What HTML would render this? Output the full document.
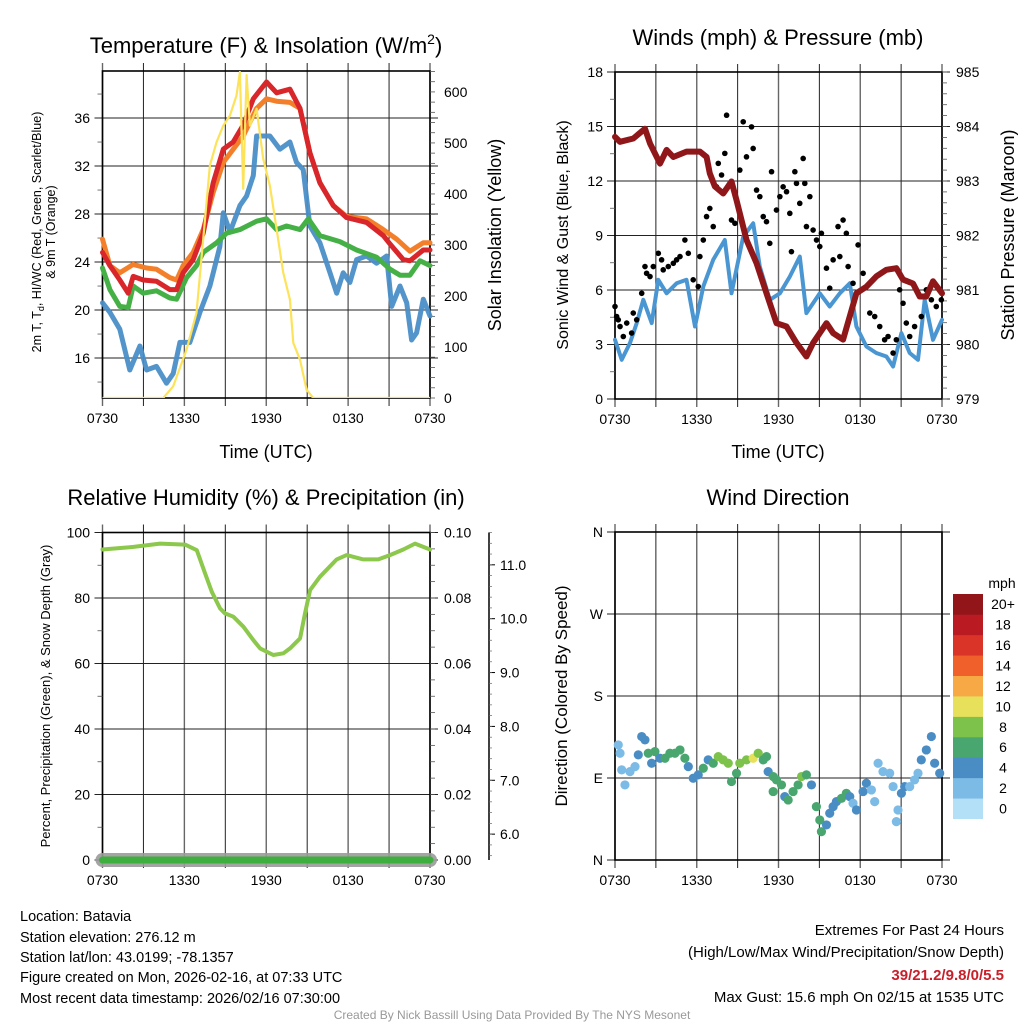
<!DOCTYPE html>
<html><head><meta charset="utf-8"><title>Batavia Mesonet</title>
<style>
html,body{margin:0;padding:0;background:#fff;}
svg{display:block;font-family:"Liberation Sans",Arial,sans-serif;}
</style></head>
<body>
<svg id="fig" width="1024" height="1024" viewBox="0 0 1024 1024" xmlns="http://www.w3.org/2000/svg">
<defs><clipPath id="clip1"><rect x="102.5" y="71" width="327.5" height="327"/></clipPath></defs>
<g id="texts">
<text x="266" y="53" font-size="22" text-anchor="middle">Temperature (F) &amp; Insolation (W/m<tspan font-size="14" dy="-9">2</tspan><tspan dy="9">)</tspan></text>
<text x="778" y="45" font-size="22" text-anchor="middle">Winds (mph) &amp; Pressure (mb)</text>
<text x="266" y="505" font-size="22" text-anchor="middle">Relative Humidity (%) &amp; Precipitation (in)</text>
<text x="778" y="505" font-size="22" text-anchor="middle">Wind Direction</text>
<text x="266" y="458" font-size="18" text-anchor="middle">Time (UTC)</text>
<text x="778" y="458" font-size="18" text-anchor="middle">Time (UTC)</text>
<text transform="translate(41,232) rotate(-90)" font-size="12.5" text-anchor="middle">2m T, T<tspan font-size="9" dy="3">d</tspan><tspan dy="-3">, HI/WC (Red, Green, Scarlet/Blue)</tspan></text>
<text transform="translate(55,232) rotate(-90)" font-size="12.5" text-anchor="middle">&amp; 9m T (Orange)</text>
<text transform="translate(501,235) rotate(-90)" font-size="18" text-anchor="middle">Solar Insolation (Yellow)</text>
<text transform="translate(568,235) rotate(-90)" font-size="16" text-anchor="middle">Sonic Wind &amp; Gust (Blue, Black)</text>
<text transform="translate(1014,235) rotate(-90)" font-size="18" text-anchor="middle">Station Pressure (Maroon)</text>
<text transform="translate(50,696) rotate(-90)" font-size="13" text-anchor="middle">Percent, Precipitation (Green), &amp; Snow Depth (Gray)</text>
<text transform="translate(567,696) rotate(-90)" font-size="17" text-anchor="middle">Direction (Colored By Speed)</text>
<text x="1002" y="588" font-size="14" text-anchor="middle">mph</text>
<g font-size="14.5">
<text x="20" y="921">Location: Batavia</text>
<text x="20" y="942">Station elevation: 276.12 m</text>
<text x="20" y="962">Station lat/lon: 43.0199; -78.1357</text>
<text x="20" y="982">Figure created on Mon, 2026-02-16, at 07:33 UTC</text>
<text x="20" y="1003">Most recent data timestamp: 2026/02/16 07:30:00</text>
</g>
<g font-size="15" text-anchor="end">
<text x="1004" y="935">Extremes For Past 24 Hours</text>
<text x="1004" y="957">(High/Low/Max Wind/Precipitation/Snow Depth)</text>
<text x="1004" y="980" fill="#c8202a" font-weight="bold">39/21.2/9.8/0/5.5</text>
<text x="1004" y="1002">Max Gust: 15.6 mph On 02/15 at 1535 UTC</text>
</g>
<text x="512" y="1019" font-size="12" fill="#999" text-anchor="middle">Created By Nick Bassill Using Data Provided By The NYS Mesonet</text>
</g>
</svg>
<script>
// ---- Temperature panel data ----
const redH=[0,0.54,1.27,1.88,2.25,2.98,3.96,4.94,5.43,5.91,6.65,7.38,8.11,8.85,9.58,10.31,11.05,12.02,12.76,13.73,14.47,15.20,15.93,16.91,17.89,19.35,20.58,21.07,22.04,22.53,23.51,24];
const redT=[24.8,23.7,22.5,21.4,22.8,22.5,22.4,21.7,21.7,23.1,24.2,26.4,30.6,33.4,34.0,35.4,37.6,39.0,38.1,38.4,36.8,33.1,30.6,28.7,27.7,27.3,26.2,25.5,24.2,24.1,25.0,25.0];
const orgH=[0,0.54,1.27,2.25,3.23,3.96,4.94,5.43,5.91,6.65,7.38,8.11,8.85,9.58,10.31,11.29,12.02,12.76,13.73,14.47,15.20,15.93,16.91,17.89,19.35,20.58,21.56,22.53,23.51,24];
const orgT=[25.9,23.7,23.1,23.8,23.5,23.4,22.7,22.5,23.7,24.8,26.7,29.8,32.3,33.4,34.5,36.8,37.6,37.4,37.3,36.8,33.1,30.6,28.7,27.8,27.6,26.7,25.9,24.9,25.6,25.6];
const grnH=[0,0.54,1.27,1.88,2.25,2.98,3.96,4.94,5.43,6.16,6.89,7.38,8.36,9.09,10.07,11.29,12.02,12.76,13.49,14.47,15.08,15.93,17.40,18.62,20.09,21.07,21.80,22.53,23.27,24];
const grnT=[23.5,21.7,20.3,20.2,22.0,21.4,21.6,21.0,20.9,22.7,23.7,24.8,25.6,26.4,26.7,27.4,27.6,26.7,27.0,26.7,27.6,26.2,25.7,25.0,24.4,23.4,22.9,22.9,24.1,23.7];
const bluH=[0,0.54,1.27,2.0,2.74,3.23,3.96,4.69,5.18,5.67,6.40,7.14,7.87,8.60,8.85,9.34,10.07,10.56,11.05,11.29,12.27,13.0,13.73,14.22,14.71,15.20,15.93,16.67,17.16,17.64,18.13,18.62,19.35,20.09,20.82,21.19,21.80,22.29,22.65,23.02,23.51,24];
const bluT=[20.6,19.8,18.4,15.0,17.0,15.0,15.3,13.9,14.7,17.3,17.3,19.8,22.0,25.3,28.1,26.5,28.7,29.5,31.2,34.5,34.5,33.4,34.0,32.3,31.7,27.0,25.6,23.1,21.4,23.1,22.3,24.2,24.5,23.9,24.5,20.3,22.0,20.6,17.5,18.1,20.9,19.5];
const solH=[0,4.45,5.18,6.16,6.89,7.38,7.87,8.36,8.85,9.34,9.82,10.07,10.31,10.56,10.80,11.29,11.78,12.27,12.76,13.24,13.73,13.98,14.47,14.96,15.44,24];
const solW=[0,0,23,95,167,311,456,502,534,554,593,639,410,633,534,567,469,416,331,246,193,108,75,16,0,0];
const tempTicks=[16,20,24,28,32,36];
const solTicks=[0,100,200,300,400,500,600];
const timeLabels=["0730","1330","1930","0130","0730"];
// ---- Wind panel data ----
const presH=[0,0.37,1.34,2.2,2.57,3.3,3.79,4.28,5.25,6.23,6.72,6.96,7.33,7.94,8.55,8.92,9.65,10.39,11.12,11.85,12.59,13.32,14.05,14.54,15.52,16.01,16.74,17.72,18.45,19.18,19.92,20.65,21.14,21.87,22.36,22.85,23.34,24];
const presMb=[983.81,983.72,983.78,983.96,983.69,983.32,983.57,983.44,983.54,983.54,983.44,983.14,982.9,982.77,982.99,982.65,981.92,981.49,980.94,980.39,980.33,980.03,979.78,980.03,980.39,980.21,980.09,980.94,981.06,981.25,981.37,981.40,981.19,981.12,980.88,980.88,981.16,980.94];
const windH=[0,0.49,1.10,1.59,2.08,2.69,3.18,3.79,4.52,5.25,5.87,6.48,7.21,8.06,8.55,9.41,10.14,10.63,11.36,12.10,12.83,13.56,14.05,15.03,15.76,16.50,17.23,17.72,18.45,19.18,19.92,20.41,21.02,21.63,22.24,22.73,23.34,24];
const windMph=[3.26,2.16,3.08,4.18,5.46,4.18,6.56,5.82,6.37,6.56,3.99,6.19,7.66,8.75,5.82,8.94,9.67,7.29,5.46,5.82,6.74,7.84,4.73,5.82,5.09,5.82,6.37,3.99,2.89,2.53,2.34,1.79,3.63,2.53,2.16,5.46,3.26,4.36];
const gustH=[0,0.12,0.24,0.37,0.61,0.86,1.22,1.34,1.59,1.96,2.2,2.32,2.57,2.81,3.18,3.42,3.54,3.91,4.28,4.52,4.77,5.13,5.38,5.74,6.11,6.23,6.48,6.72,6.96,7.21,7.45,7.58,7.82,8.06,8.19,8.55,8.80,9.16,9.41,9.65,10.02,10.14,10.39,10.63,10.88,11.12,11.36,11.49,11.85,12.10,12.34,12.59,12.83,12.95,13.20,13.32,13.56,13.81,13.93,14.05,14.30,14.54,14.79,15.03,15.15,15.52,15.76,16.01,16.37,16.50,16.74,16.98,17.11,17.47,17.84,18.21,18.70,19.06,19.43,19.79,20.04,20.41,20.65,20.89,21.14,21.38,21.63,21.99,22.48,22.85,23.22,23.58,23.95];
const gustMph=[5.09,4.54,4.36,3.99,3.44,4.18,3.63,4.73,4.36,5.82,7.29,6.92,6.74,7.29,8.02,7.66,7.11,7.29,7.47,7.66,7.84,8.75,8.02,6.56,6.19,7.84,8.75,10.04,10.49,9.49,11.68,12.97,12.33,13.52,15.62,9.85,9.67,12.60,15.26,13.33,14.98,13.79,11.50,11.14,10.04,9.76,8.57,12.51,10.40,11.14,11.68,11.41,10.22,8.11,12.51,11.87,10.77,13.24,11.87,9.49,11.14,9.30,8.75,8.39,9.12,7.20,6.10,7.66,9.49,7.84,9.85,9.12,7.29,6.37,8.48,6.92,4.73,4.54,3.99,3.26,3.44,2.53,3.26,6.01,5.27,4.18,3.44,3.99,4.54,6.01,5.46,5.09,5.46];
const windTicks=[0,3,6,9,12,15,18];
const presTicks=[979,980,981,982,983,984,985];
// ---- Humidity panel data ----
const rhH=[0,2.27,4.22,6.05,6.91,7.52,8.01,8.62,8.98,9.59,10.33,11.06,11.55,12.52,13.26,13.74,14.48,14.84,15.21,15.94,17.16,17.89,19.11,20.21,21.07,22.04,22.90,24];
const rhPct=[94.8,95.6,96.6,96.3,94.6,87.5,81.9,76.8,75.3,74.3,71.2,67.1,64.6,62.6,63.1,64.6,67.7,75.3,82.4,86.5,91.8,93.1,91.8,91.8,93.1,94.8,96.6,94.8];
const precipH=[0,24];
const precipIn=[0,0];
const rhTicks=[0,20,40,60,80,100];
const precipTicks=["0.00","0.02","0.04","0.06","0.08","0.10"];
const snowTicks=["6.0","7.0","8.0","9.0","10.0","11.0"];
// ---- Wind direction data ----
const dirH=[0.24,0.37,0.49,0.73,1.10,1.47,1.71,1.96,2.20,2.44,2.69,2.93,3.30,3.67,4.03,4.40,4.77,5.13,5.38,5.74,6.11,6.48,6.84,7.21,7.58,7.94,8.31,8.55,8.92,9.16,9.65,10.14,10.51,10.88,11.12,11.24,11.61,11.61,11.85,12.22,12.46,12.71,13.07,13.44,13.69,14.05,14.42,14.78,15.03,15.15,15.52,15.76,16.01,16.25,16.62,16.98,17.23,17.47,17.72,18.21,18.45,18.82,19.06,19.31,19.67,20.16,20.41,20.77,20.65,21.02,21.26,21.63,21.99,22.24,22.48,22.85,23.22,23.46,23.83];
const dirDeg=[126.3,117.2,98.9,82.4,97.0,102.5,115.4,135.5,131.8,117.2,106.2,119.0,111.7,111.7,117.2,117.2,120.8,111.7,102.5,89.7,93.4,100.7,109.9,106.2,113.5,109.9,106.2,86.1,95.2,106.2,109.9,111.7,117.2,109.9,113.5,97.0,91.6,75.1,87.9,82.4,69.6,65.9,75.1,82.4,91.6,93.4,82.4,58.6,43.9,31.1,38.5,51.3,58.6,64.1,67.7,73.2,69.6,62.3,54.9,75.1,84.2,76.9,64.1,106.2,97.0,95.2,80.6,54.9,42.1,73.2,80.6,80.6,87.9,95.2,109.9,120.8,135.5,106.2,95.2];
const dirSpd=[2.5,2.5,2.5,2.5,2.5,2.5,4.5,4.5,4.5,6.5,4.5,6.5,4.5,6.5,6.5,6.5,6.5,6.5,4.5,4.5,4.5,6.5,4.5,6.5,8.5,8.5,8.5,6.5,6.5,8.5,8.5,10.2,8.5,6.5,6.5,4.5,6.5,6.5,6.5,6.5,4.5,6.5,6.5,6.5,8.5,6.5,4.5,6.5,6.5,6.5,4.5,4.5,4.5,4.5,6.5,6.5,4.5,2.5,4.5,4.5,4.5,2.5,2.5,2.5,2.5,2.5,2.5,2.5,2.5,4.5,4.5,2.5,2.5,2.5,4.5,4.5,4.5,4.5,4.5];
const dirLabels=["N","E","S","W","N"];
const cbLabels=["0","2","4","6","8","10","12","14","16","18","20+"];
const cbColors=["#b3e0f7","#7bbbe6","#4a8dc5","#48a66e","#7dc24a","#e6e05a","#f6a945","#f0602a","#da3327","#ba1b22","#921519"];

const NS="http://www.w3.org/2000/svg";
const svg=document.getElementById('fig');
function E(tag,parent){const e=document.createElementNS(NS,tag);(parent||svg).appendChild(e);return e;}
function lin(d0,d1,r0,r1){return v=>r0+(v-d0)*(r1-r0)/(d1-d0);}
function path(xs,ys,fx,fy){let s="";for(let i=0;i<xs.length;i++){s+=(i?"L":"M")+fx(xs[i]).toFixed(1)+","+fy(ys[i]).toFixed(1);}return s;}

const P1={x0:102.5,x1:430,y0:71,y1:398};
const P2={x0:615,x1:942,y0:72,y1:399};
const P3={x0:102.5,x1:430,y0:532.5,y1:860};
const P4={x0:615,x1:942,y0:532,y1:860};

function frame(P,name,yTicksPx,yLabels,labelX){
  const g=E('g');
  
  
  for(let i=0;i<=8;i++){
    const x=P.x0+i*(P.x1-P.x0)/8;
    const l=E('line',g);
    
    
    l.setAttribute('x1',x);l.setAttribute('x2',x);l.setAttribute('y1',P.y0-8);l.setAttribute('y2',P.y1+8);
    l.setAttribute('stroke',i%2?'#222':'#666');l.setAttribute('stroke-width',i%2?1:1.4);
  }
  for(let i=0;i<5;i++){
    const t=E('text',g);
    
    
    t.setAttribute('x',P.x0+i*(P.x1-P.x0)/4);t.setAttribute('y',P.y1+25);
    t.setAttribute('font-size','14');t.setAttribute('text-anchor','middle');
    t.textContent=timeLabels[i];
  }
  yTicksPx.forEach((y,i)=>{
    const l=E('line',g);
    
    
    l.setAttribute('x1',P.x0-8);l.setAttribute('x2',P.x1+8);l.setAttribute('y1',y);l.setAttribute('y2',y);
    l.setAttribute('stroke','#222');l.setAttribute('stroke-width',1);
    if(yLabels){
      const t=E('text',g);
      
      
      t.setAttribute('x',labelX);t.setAttribute('y',y+5);t.setAttribute('font-size','14');t.setAttribute('text-anchor','end');
      t.textContent=yLabels[i];
    }
  });
  const r=E('rect',g);
  
  
  r.setAttribute('x',P.x0);r.setAttribute('y',P.y0);r.setAttribute('width',P.x1-P.x0);r.setAttribute('height',P.y1-P.y0);
  r.setAttribute('fill','none');r.setAttribute('stroke','#000');r.setAttribute('stroke-width',1.6);
  return g;
}
function rightTicks(P,name,ys,labels,minorYs){
  const g=E('g');
  
  
  ys.forEach((y,i)=>{
    const t=E('text',g);
    
    
    t.setAttribute('x',P.x1+14);t.setAttribute('y',y+5);t.setAttribute('font-size','14');
    t.textContent=labels[i];
  });
  minorYs.forEach(y=>{
    const l=E('line',g);
    
    
    l.setAttribute('x1',P.x1);l.setAttribute('x2',P.x1+5);l.setAttribute('y1',y);l.setAttribute('y2',y);
    l.setAttribute('stroke','#555');l.setAttribute('stroke-width',0.8);
  });
}
function leftMinor(P,name,ys){
  ys.forEach(y=>{
    const l=E('line');
    
    
    l.setAttribute('x1',P.x0-5);l.setAttribute('x2',P.x0);l.setAttribute('y1',y);l.setAttribute('y2',y);
    l.setAttribute('stroke','#555');l.setAttribute('stroke-width',0.8);
  });
}
function line(d,color,w,name,op){
  const p=E('path');
  
  
  p.setAttribute('d',d);p.setAttribute('fill','none');p.setAttribute('stroke',color);
  p.setAttribute('stroke-width',w);p.setAttribute('stroke-linejoin','round');p.setAttribute('stroke-linecap','round');
  if(op)p.setAttribute('opacity',op);
  return p;
}

// ===== Panel 1 =====
const x1s=lin(0,24,P1.x0,P1.x1);
const yT=lin(12.67,39.92,P1.y1,P1.y0);
const yS=lin(0,641,P1.y1,P1.y0);
frame(P1,'temperature',tempTicks.map(yT),tempTicks,90);
leftMinor(P1,'temperature',[14,18,22,26,30,34,38].map(yT));
{const mins=[];for(let w=0;w<=640;w+=20)mins.push(yS(w));rightTicks(P1,'solar',solTicks.map(yS),solTicks,mins);}
line(path(bluH,bluT,x1s,yT),'#4a8fc8',5,'dewpoint-line',0.95);
line(path(grnH,grnT,x1s,yT),'#45b046',5,'heat-index-line');
line(path(orgH,orgT,x1s,yT),'#f47f2a',5,'temp-9m-line');
line(path(redH,redT,x1s,yT),'#d8262b',5,'temp-2m-line');
const solLine=line(path(solH,solW,x1s,yS),'#fde35a',2.2,'solar-insolation-line');
solLine.setAttribute('clip-path','url(#clip1)');

// ===== Panel 2 =====
const x2s=lin(0,24,P2.x0,P2.x1);
const yW=lin(0,18,P2.y1,P2.y0);
const yP=lin(979,985,P2.y1,P2.y0);
frame(P2,'wind',windTicks.map(yW),windTicks,603);
leftMinor(P2,'wind',[1.5,4.5,7.5,10.5,13.5,16.5].map(yW));
{const mins=[];for(let m=979;m<=985.001;m+=0.2)mins.push(yP(m));rightTicks(P2,'pressure',presTicks.map(yP),presTicks,mins);}
line(path(windH,windMph,x2s,yW),'#4a96d2',4,'sonic-wind-line');
{const g=E('g');


gustH.forEach((h,i)=>{const c=E('circle',g);


c.setAttribute('cx',x2s(h));c.setAttribute('cy',yW(gustMph[i]));c.setAttribute('r',2.8);c.setAttribute('fill','#000');});}
line(path(presH,presMb,x2s,yP),'#8f1719',6,'pressure-line');

// ===== Panel 3 =====
const x3s=lin(0,24,P3.x0,P3.x1);
const yR=lin(0,100,P3.y1,P3.y0);
const yPr=lin(0,0.1,P3.y1,P3.y0);
const ySn=lin(5.52,11.6,P3.y1,P3.y0);
frame(P3,'humidity',rhTicks.map(yR),rhTicks,90);
leftMinor(P3,'humidity',[10,30,50,70,90].map(yR));
{const mins=[];for(let v=0;v<=100;v+=5)mins.push(yR(v));rightTicks(P3,'precip',rhTicks.map(yR),precipTicks,mins);}
{const g=E('g');


const ax=E('line',g);


ax.setAttribute('x1',489);ax.setAttribute('x2',489);ax.setAttribute('y1',P3.y0);ax.setAttribute('y2',P3.y1);ax.setAttribute('stroke','#000');ax.setAttribute('stroke-width',1.5);
snowTicks.forEach(s=>{const y=ySn(parseFloat(s));
const l=E('line',g);


l.setAttribute('x1',489);l.setAttribute('x2',495);l.setAttribute('y1',y);l.setAttribute('y2',y);l.setAttribute('stroke','#000');
const t=E('text',g);


t.setAttribute('x',500);t.setAttribute('y',y+5);t.setAttribute('font-size','14');t.textContent=s;});
for(let v=5.6;v<=11.6;v+=0.2){const y=ySn(v);const l=E('line',g);


l.setAttribute('x1',489);l.setAttribute('x2',492);l.setAttribute('y1',y);l.setAttribute('y2',y);l.setAttribute('stroke','#666');l.setAttribute('stroke-width',0.7);}}
line(path(precipH,precipIn,x3s,yPr),'#9a9a9a',14,'snow-depth-line',0.9);
line(path(precipH,precipIn,x3s,yPr),'#3eae3e',7,'precipitation-line');
line(path(rhH,rhPct,x3s,yR),'#8cc84b',4,'relative-humidity-line');

// ===== Panel 4 =====
const x4s=lin(0,24,P4.x0,P4.x1);
const yD=lin(0,360,P4.y1,P4.y0);
frame(P4,'direction',[0,90,180,270,360].map(yD),dirLabels,603);
{const g=E('g');


dirH.forEach((h,i)=>{const c=E('circle',g);


const k=Math.min(10,Math.floor((dirSpd[i]+1)/2));
c.setAttribute('cx',x4s(h));c.setAttribute('cy',yD(dirDeg[i]));c.setAttribute('r',4.6);c.setAttribute('fill',cbColors[k]);});}
{const g=E('g');


const h=(818.7-594)/11;
cbColors.forEach((c,i)=>{const y=818.7-(i+1)*h;
const r=E('rect',g);


r.setAttribute('x',953);r.setAttribute('y',y);r.setAttribute('width',30);r.setAttribute('height',h+0.3);r.setAttribute('fill',c);
const t=E('text',g);


t.setAttribute('x',1003);t.setAttribute('y',y+h/2+5);t.setAttribute('font-size','14');t.setAttribute('text-anchor','middle');t.textContent=cbLabels[i];});}
</script>
</body></html>
